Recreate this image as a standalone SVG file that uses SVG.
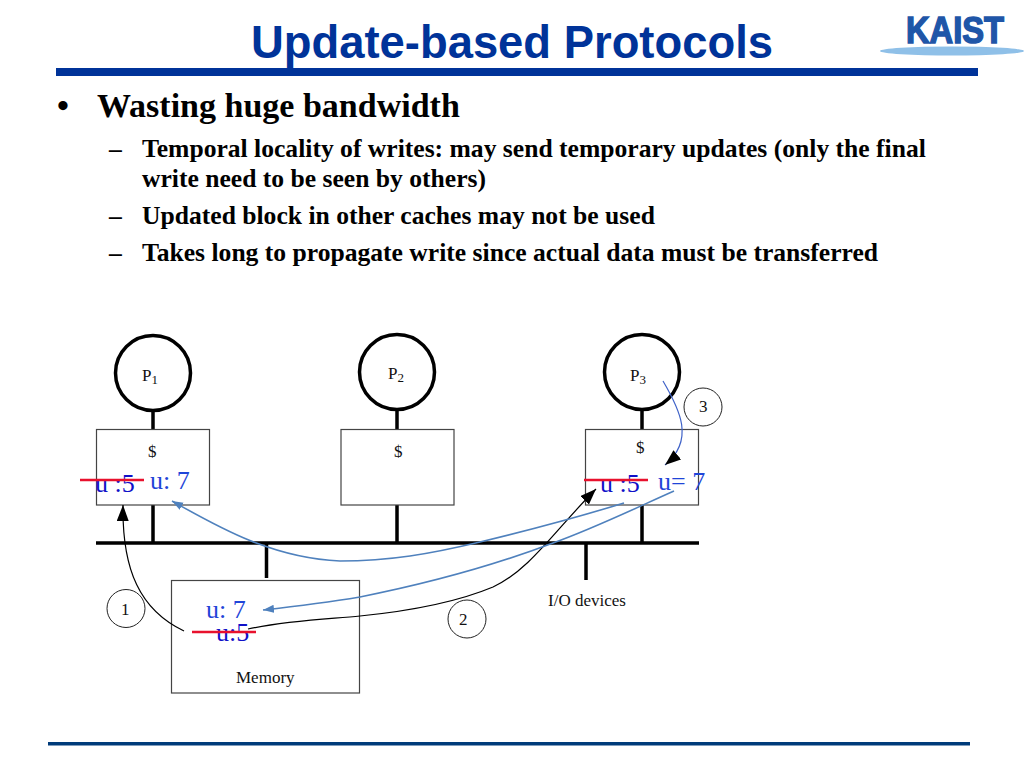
<svg xmlns="http://www.w3.org/2000/svg" width="1024" height="768" viewBox="0 0 1024 768">
<style>
text{font-family:"Liberation Serif","Times New Roman",serif}
.title{font-family:"Liberation Sans",Arial,sans-serif;font-weight:bold;font-size:45.400px;fill:#003399}
.b1{font-weight:bold;font-size:34px;fill:#000}
.b2{font-weight:bold;font-size:25.600px;fill:#000}
.lbl{font-size:17px;fill:#111}
.sub{font-size:13px;fill:#111}
.blue{font-size:26px;fill:#1f45d8}
.dblue{font-size:26px;fill:#1010c8}
.proc{fill:none;stroke:#000;stroke-width:3.5}
.box{fill:#fff;stroke:#444;stroke-width:1.2}
.bus{stroke:#000;stroke-width:3.5;fill:none}
.num{fill:#fff;stroke:#222;stroke-width:1}
.red{stroke:#e8112d;stroke-width:2.5}
.bl{fill:none;stroke:#4f81bd;stroke-width:1.6}
.bk{fill:none;stroke:#000;stroke-width:1.2}
</style>
<defs>
<marker id="ak" markerUnits="userSpaceOnUse" markerWidth="18" markerHeight="14" refX="16" refY="6" orient="auto"><path d="M0 0L16 6L0 12z" fill="#000"/></marker>
<marker id="ab" markerUnits="userSpaceOnUse" markerWidth="12" markerHeight="10" refX="11" refY="4" orient="auto"><path d="M0 0L11 4L0 8z" fill="#4f81bd"/></marker>
</defs>
<g id="header">
<text class="title" x="512" y="58" text-anchor="middle">Update-based Protocols</text>
<rect x="56" y="68" width="922" height="8" fill="#003399"/>
<rect x="48" y="742" width="922" height="3.5" fill="#003b7a"/>
</g>
<g id="logo">
<text x="955" y="43" text-anchor="middle" textLength="98" lengthAdjust="spacingAndGlyphs" style="font-family:'Liberation Sans',Arial,sans-serif;font-weight:bold;font-size:37px;fill:#1f56a8;stroke:#1f56a8;stroke-width:1.5">KAIST</text>
<ellipse cx="952" cy="51" rx="72" ry="4.5" fill="#8fc0e8"/>
</g>
<g id="bullets">
<text class="b1" x="57" y="117">•</text>
<text class="b1" x="97" y="117">Wasting huge bandwidth</text>
<text class="b2" x="109" y="157">–</text>
<text class="b2" x="142" y="157">Temporal locality of writes: may send temporary updates (only the final</text>
<text class="b2" x="142" y="187">write need to be seen by others)</text>
<text class="b2" x="109" y="224">–</text>
<text class="b2" x="142" y="224">Updated block in other caches may not be used</text>
<text class="b2" x="109" y="261">–</text>
<text class="b2" x="142" y="261">Takes long to propagate write since actual data must be transferred</text>
</g>
<g id="bus">
<path class="bus" d="M96 543H699M153 411V429M153 505V543M397 410V429M397 505V543M642 410V429M642 505V543M266.500 543V578M586 543V580"/>
</g>
<g id="p1"><circle class="proc" cx="153" cy="373" r="37.500"/><text class="lbl" x="142" y="381">P<tspan class="sub" dy="3">1</tspan></text></g>
<g id="p2"><circle class="proc" cx="397" cy="372" r="37.500"/><text class="lbl" x="388" y="379">P<tspan class="sub" dy="3">2</tspan></text></g>
<g id="p3"><circle class="proc" cx="642" cy="372" r="37.500"/><text class="lbl" x="630" y="381">P<tspan class="sub" dy="3">3</tspan></text></g>
<g id="cache1"><rect class="box" x="96.500" y="429.500" width="113" height="75.500"/><text class="lbl" x="148" y="457">$</text>
<text class="dblue" x="95" y="492">u :5</text><text class="blue" x="150" y="489">u: 7</text><line class="red" x1="80" y1="480" x2="144" y2="480"/></g>
<g id="cache2"><rect class="box" x="341" y="429.500" width="113" height="75.500"/><text class="lbl" x="394" y="457">$</text></g>
<g id="cache3"><rect class="box" x="585.500" y="429.500" width="113" height="75.500"/><text class="lbl" x="636" y="453">$</text>
<text class="dblue" x="600" y="492">u :5</text><text class="blue" x="658" y="490">u= 7</text><line class="red" x1="584" y1="480" x2="648" y2="480"/></g>
<g id="memory"><rect class="box" x="171.500" y="580.500" width="188" height="112.500"/>
<text class="blue" x="206" y="618">u: 7</text><text class="dblue" x="216" y="641">u:5</text><line class="red" x1="192" y1="632" x2="256" y2="632"/>
<text class="lbl" x="236" y="683">Memory</text></g>
<g id="io"><text class="lbl" x="548" y="606">I/O devices</text></g>
<g id="n1"><circle class="num" cx="126" cy="608.500" r="19"/><text class="lbl" x="121" y="615">1</text></g>
<g id="n2"><circle class="num" cx="467" cy="619" r="19"/><text class="lbl" x="459" y="625">2</text></g>
<g id="n3"><circle class="num" cx="703" cy="407" r="19"/><text class="lbl" x="699" y="412">3</text></g>
<g id="connectors">
<path class="bk" marker-end="url(#ak)" d="M184 631C140 610 122 570 123 505"/>
<path class="bk" marker-end="url(#ak)" d="M248 629C290 620 330 619 360 616C400 612 450 605 493 587C530 570 555 530 596 489"/>
<path fill="none" stroke="#3f62c8" stroke-width="1.200" marker-end="url(#ak)" d="M663 381C680 410 695 440 665 465"/>
<path class="bl" marker-end="url(#ab)" d="M624 503C575 518 530 530 480 542C430 554 390 561 340 561C270 558 215 525 172 501"/>
<path class="bl" marker-end="url(#ab)" d="M674 491C640 506 595 528 553 543C490 567 420 585 360 597C330 602 290 607 263 610"/>
</g>
</svg>
